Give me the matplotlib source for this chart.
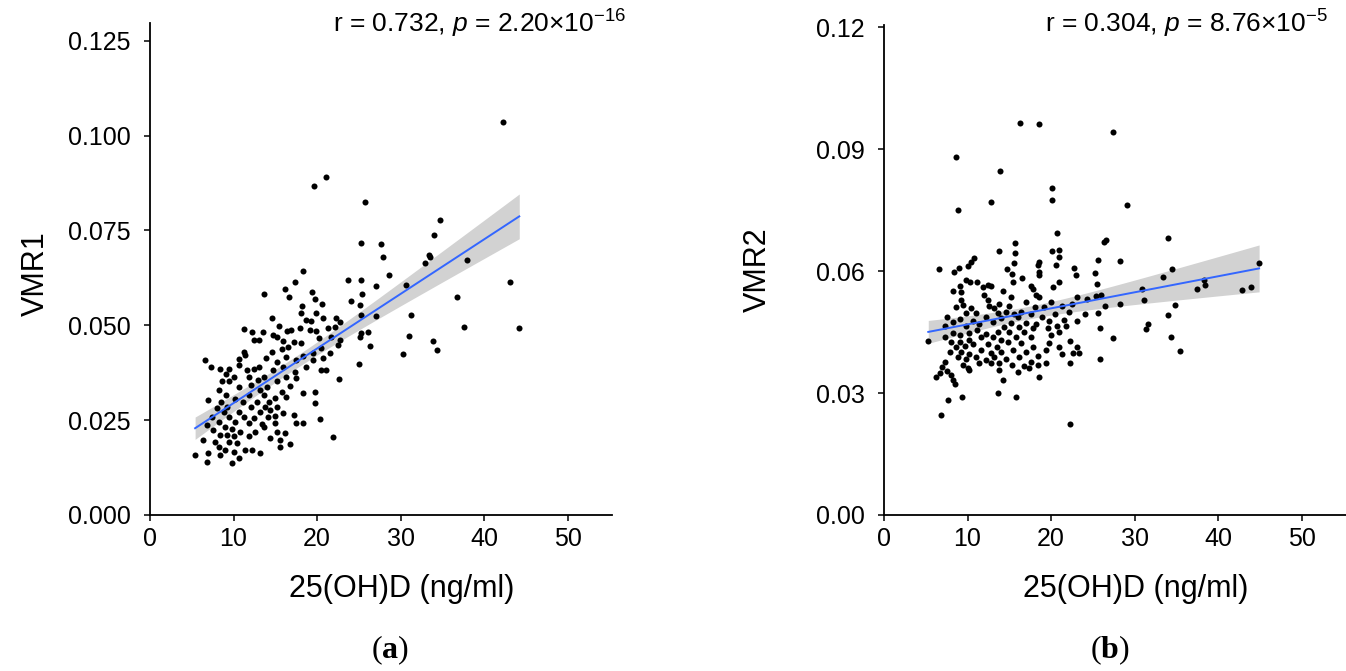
import numpy as np
import matplotlib
matplotlib.use("Agg")
import matplotlib.pyplot as plt

plt.rcParams['font.family'] = ['Liberation Sans', 'DejaVu Sans']
plt.rcParams['mathtext.fontset'] = 'custom'
plt.rcParams['mathtext.rm'] = 'Liberation Sans'
plt.rcParams['mathtext.it'] = 'Liberation Sans:italic'
plt.rcParams['mathtext.bf'] = 'Liberation Serif:bold'

# --- panel (a): 25(OH)D vs VMR1 ---
vmr1_pts = [
    (42.3, 0.1037), (21.1, 0.0890), (19.6, 0.0866), (25.7, 0.0825), (34.7, 0.0777), (34.0, 0.0739),
    (25.2, 0.0716), (27.7, 0.0714), (27.9, 0.0681), (33.4, 0.0685), (33.5, 0.0679), (32.9, 0.0663),
    (38.0, 0.0672), (28.6, 0.0633), (18.3, 0.0644), (23.7, 0.0619), (25.3, 0.0619), (17.4, 0.0615),
    (43.1, 0.0614), (30.7, 0.0606), (27.0, 0.0604), (16.1, 0.0596), (13.7, 0.0583), (25.4, 0.0582),
    (19.4, 0.0587), (19.8, 0.0570), (36.8, 0.0574), (16.6, 0.0574), (24.0, 0.0563), (20.6, 0.0557),
    (25.1, 0.0553), (18.2, 0.0550), (31.2, 0.0528), (27.0, 0.0524), (25.3, 0.0528), (37.6, 0.0496),
    (44.2, 0.0494), (31.0, 0.0472), (33.9, 0.0458), (26.1, 0.0483), (26.3, 0.0445), (34.3, 0.0434),
    (30.3, 0.0425), (25.0, 0.0397), (22.6, 0.0358), (21.9, 0.0205), (20.4, 0.0252), (25.2, 0.0479),
    (25.1, 0.0469),
    (14.6, 0.0519), (11.2, 0.0490), (12.2, 0.0482), (13.5, 0.0483), (14.75, 0.0475), (12.4, 0.0462),
    (13.1, 0.0462), (14.6, 0.0431), (11.2, 0.0431), (11.4, 0.0422), (6.6, 0.0409), (10.6, 0.0411),
    (13.9, 0.0413), (10.7, 0.0396), (13.0, 0.0391), (7.3, 0.0389), (8.4, 0.0384), (9.4, 0.0384),
    (11.6, 0.0382), (12.4, 0.0384), (13.6, 0.0365), (9.1, 0.0371), (10.0, 0.0365), (11.8, 0.0365),
    (12.9, 0.0356), (8.6, 0.0352), (9.4, 0.0352), (10.6, 0.0338), (12.1, 0.0343), (14.0, 0.0338),
    (13.2, 0.0330), (8.2, 0.0330), (9.05, 0.0316), (11.8, 0.0316), (13.6, 0.0316), (6.9, 0.0303),
    (8.5, 0.0299), (10.2, 0.0305), (11.1, 0.0299), (12.8, 0.0299), (14.2, 0.0299), (8.0, 0.0281),
    (9.2, 0.0286), (12.1, 0.0284), (13.8, 0.0286), (8.8, 0.0272), (10.6, 0.0272), (13.2, 0.0272),
    (7.4, 0.0259), (9.5, 0.0259), (11.2, 0.0259), (12.4, 0.0255), (14.1, 0.0259), (8.2, 0.0246),
    (10.2, 0.0246), (11.8, 0.0242), (13.4, 0.0240), (6.8, 0.0237), (9.0, 0.0233), (7.6, 0.0224),
    (9.8, 0.0226), (10.8, 0.0220), (12.6, 0.0220), (8.4, 0.0211), (9.2, 0.0211), (10.1, 0.0207),
    (11.8, 0.0207), (6.4, 0.0198), (7.8, 0.0193), (9.4, 0.0193), (10.4, 0.0189), (8.2, 0.0180),
    (9.0, 0.0171), (7.0, 0.0163), (10.0, 0.0167), (11.4, 0.0171), (13.2, 0.0163), (5.4, 0.0158),
    (8.4, 0.0158), (10.6, 0.0149), (6.8, 0.0141), (9.8, 0.0136), (12.2, 0.0171), (13.6, 0.0233),
    (18.1, 0.0532), (19.9, 0.0532), (18.7, 0.0514), (19.3, 0.0512), (20.7, 0.0519), (22.3, 0.0519),
    (22.7, 0.0510), (15.5, 0.0497), (16.9, 0.0488), (18.0, 0.0492), (19.1, 0.0488), (19.9, 0.0484),
    (21.3, 0.0492), (22.1, 0.0495), (16.4, 0.0484), (15.15, 0.0469), (20.25, 0.0466), (21.7, 0.0470),
    (17.2, 0.0457), (18.1, 0.0453), (22.8, 0.0462), (15.9, 0.0460), (16.5, 0.0442), (15.75, 0.0437),
    (22.5, 0.0449), (20.5, 0.0440), (19.5, 0.0426), (21.5, 0.0426), (16.3, 0.0416), (18.3, 0.0419),
    (17.5, 0.0409), (20.7, 0.0413), (15.15, 0.0404), (19.5, 0.0409), (15.9, 0.0391), (14.75, 0.0382),
    (17.3, 0.0378), (18.7, 0.0391), (20.5, 0.0382), (21.1, 0.0381), (16.3, 0.0365), (17.5, 0.0361),
    (15.15, 0.0352), (16.75, 0.0339), (15.75, 0.0325), (18.3, 0.0321), (19.7, 0.0323), (14.95, 0.0308),
    (16.3, 0.0312), (19.7, 0.0295), (15.15, 0.0286), (14.35, 0.0277), (15.95, 0.0268), (17.2, 0.0264),
    (14.95, 0.0260), (18.3, 0.0242), (17.5, 0.0243), (14.95, 0.0242), (15.15, 0.0220), (16.15, 0.0215),
    (14.35, 0.0202), (15.55, 0.0198), (16.75, 0.0187), (15.55, 0.0180),
]

# --- panel (b): 25(OH)D vs VMR2 ---
vmr2_pts = [
    (16.3, 0.0963), (18.6, 0.0961), (27.4, 0.0941), (8.6, 0.0880), (13.9, 0.0845), (20.1, 0.0805),
    (20.1, 0.0775), (12.8, 0.0769), (29.1, 0.0763), (8.9, 0.0749), (34.0, 0.0681), (20.7, 0.0694),
    (26.6, 0.0677), (26.3, 0.0672), (15.7, 0.0669), (34.5, 0.0606), (44.9, 0.0620), (28.3, 0.0625),
    (25.6, 0.0627), (30.9, 0.0557), (33.4, 0.0586), (38.4, 0.0565), (37.5, 0.0557), (38.3, 0.0578),
    (42.9, 0.0553), (43.9, 0.0561), (31.1, 0.0528), (34.8, 0.0517), (28.3, 0.0519), (34.0, 0.0493),
    (31.6, 0.0469), (31.4, 0.0458), (34.3, 0.0437), (35.4, 0.0404), (27.4, 0.0435), (25.8, 0.0461),
    (25.8, 0.0383), (22.3, 0.0223), (25.6, 0.0496), (25.4, 0.0539), (25.5, 0.0569), (25.3, 0.0595),
    (26.0, 0.0541), (26.4, 0.0515), (22.7, 0.0608), (23.0, 0.0589), (23.1, 0.0537), (23.1, 0.0477),
    (24.1, 0.0495), (24.3, 0.0531), (6.8, 0.0246), (7.7, 0.0282), (9.3, 0.0291), (13.7, 0.0301),
    (15.8, 0.0289), (22.3, 0.0373), (22.6, 0.0399), (23.3, 0.0399),
    (13.8, 0.0650), (10.8, 0.0631), (10.4, 0.0621), (10.0, 0.0612), (9.0, 0.0608), (8.4, 0.0598),
    (6.6, 0.0606), (9.85, 0.0578), (10.3, 0.0574), (11.1, 0.0574), (9.05, 0.0563), (8.25, 0.0552),
    (11.8, 0.0560), (12.4, 0.0566), (12.8, 0.0563), (9.25, 0.0549), (12.0, 0.0541), (9.25, 0.0529),
    (12.4, 0.0529), (9.45, 0.0516), (8.6, 0.0512), (10.4, 0.0510), (12.6, 0.0514), (13.2, 0.0510),
    (11.0, 0.0497), (13.6, 0.0497), (9.85, 0.0496), (7.55, 0.0486), (12.2, 0.0488), (14.0, 0.0484),
    (9.05, 0.0481), (10.6, 0.0478), (8.25, 0.0475), (13.0, 0.0475), (7.3, 0.0465), (9.8, 0.0465),
    (11.35, 0.0470), (5.3, 0.0429), (7.3, 0.0438), (8.25, 0.0448), (9.05, 0.0443), (10.2, 0.0448),
    (11.1, 0.0455), (12.2, 0.0446), (13.6, 0.0451), (8.05, 0.0426), (9.1, 0.0426), (10.2, 0.0430),
    (11.6, 0.0438), (13.0, 0.0438), (14.0, 0.0430), (8.6, 0.0414), (9.65, 0.0416), (10.6, 0.0420),
    (12.4, 0.0420), (13.5, 0.0414), (7.9, 0.0402), (9.25, 0.0402), (10.2, 0.0397), (11.6, 0.0406),
    (12.8, 0.0399), (14.0, 0.0402), (8.85, 0.0389), (9.85, 0.0383), (11.0, 0.0389), (12.2, 0.0381),
    (13.2, 0.0388), (7.3, 0.0377), (9.45, 0.0369), (11.4, 0.0373), (12.8, 0.0373), (10.0, 0.0361),
    (13.8, 0.0375), (6.9, 0.0365), (6.7, 0.0349), (6.2, 0.0340), (7.5, 0.0353), (8.05, 0.0344),
    (8.25, 0.0332), (8.45, 0.0322), (10.2, 0.0357),
    (20.1, 0.0648), (21.0, 0.0652), (20.9, 0.0635), (15.7, 0.0645), (15.6, 0.0619), (18.6, 0.0623),
    (18.4, 0.0615), (18.5, 0.0598), (18.6, 0.0590), (14.7, 0.0604), (15.3, 0.0593), (16.5, 0.0584),
    (20.55, 0.0615), (15.4, 0.0574), (21.0, 0.0574), (20.2, 0.0560), (17.6, 0.0563), (17.8, 0.0555),
    (14.2, 0.0552), (18.2, 0.0541), (18.5, 0.0535), (15.2, 0.0535), (17.0, 0.0524), (20.0, 0.0524),
    (13.8, 0.0519), (15.0, 0.0514), (18.1, 0.0512), (19.2, 0.0512), (21.35, 0.0514), (22.5, 0.0519),
    (14.6, 0.0498), (15.6, 0.0495), (16.4, 0.0498), (17.6, 0.0495), (20.5, 0.0495), (22.1, 0.0500),
    (16.0, 0.0486), (18.9, 0.0488), (19.8, 0.0478), (15.2, 0.0473), (17.0, 0.0471), (18.2, 0.0470),
    (21.55, 0.0479), (14.4, 0.0463), (16.2, 0.0463), (19.6, 0.0459), (20.75, 0.0465), (21.75, 0.0465),
    (15.0, 0.0451), (16.8, 0.0451), (17.8, 0.0459), (15.8, 0.0438), (17.6, 0.0438), (20.0, 0.0443),
    (21.0, 0.0451), (22.3, 0.0429), (23.1, 0.0414), (14.8, 0.0426), (16.4, 0.0422), (19.8, 0.0422),
    (17.8, 0.0414), (19.4, 0.0406), (21.0, 0.0414), (15.4, 0.0406), (17.0, 0.0402), (21.3, 0.0396),
    (18.4, 0.0391), (16.2, 0.0389), (14.6, 0.0383), (17.6, 0.0377), (19.4, 0.0373), (15.3, 0.0369),
    (16.8, 0.0366), (18.4, 0.0369), (13.8, 0.0356), (16.0, 0.0352), (17.3, 0.0361), (18.5, 0.0340),
    (14.3, 0.0332),
]

x_ticks = [0, 10, 20, 30, 40, 50]
vmr1_ticks = [0.000, 0.025, 0.050, 0.075, 0.100, 0.125]
vmr2_ticks = [0.00, 0.03, 0.06, 0.09, 0.12]
stats_a = r'r = 0.732, $p$ = 2.20×10$^{-16}$'
stats_b = r'r = 0.304, $p$ = 8.76×10$^{-5}$'


def draw_panel(ax, pts, yticks, yfmt, ylim, ylabel):
    d = np.array(pts)
    x, y = d[:, 0], d[:, 1]

    # linear fit + 95% band (like geom_smooth(method='lm'))
    b, a = np.polyfit(x, y, 1)
    xs = np.linspace(x.min(), x.max(), 100)
    n = len(x)
    resid = y - (a + b * x)
    s = np.sqrt(np.sum(resid ** 2) / (n - 2))
    se = s * np.sqrt(1 / n + (xs - x.mean()) ** 2 / np.sum((x - x.mean()) ** 2))
    fit = a + b * xs
    ax.fill_between(xs, fit - 1.97 * se, fit + 1.97 * se, color='#d2d2d2', lw=0, zorder=2)
    ax.scatter(x, y, s=19, color='black', lw=0, zorder=3)
    ax.plot(xs, fit, color='#3366FF', lw=1.4, zorder=4)

    ax.set_xlim(0, 55.3)
    ax.set_ylim(*ylim)
    ax.set_xticks(x_ticks)
    ax.set_yticks(yticks)
    ax.set_yticklabels([yfmt.format(t) for t in yticks])
    for sp in ['top', 'right']:
        ax.spines[sp].set_visible(False)
    for sp in ['left', 'bottom']:
        ax.spines[sp].set_linewidth(1.3)
    ax.tick_params(axis='both', length=4, width=1.1, labelsize=18)
    ax.tick_params(axis='y', pad=10)
    ax.tick_params(axis='x', pad=5)
    ax.set_ylabel(ylabel, fontsize=22)
    ax.set_xlabel('25(OH)D (ng/ml)', fontsize=22)
    ax.xaxis.set_label_coords(0.545, -0.12)


fig = plt.figure(figsize=(13.46, 6.71), dpi=100)
W, H = 1346, 671
ax1 = fig.add_axes([150 / W, (H - 515) / H, 462 / W, 492 / H])
ax2 = fig.add_axes([884 / W, (H - 515) / H, 462 / W, 490 / H])

draw_panel(ax1, vmr1_pts, vmr1_ticks, '{:.3f}', (0, 0.1297), 'VMR1')
draw_panel(ax2, vmr2_pts, vmr2_ticks, '{:.2f}', (0, 0.1205), 'VMR2')
ax1.yaxis.set_label_coords(-0.215, 0.49)
ax2.yaxis.set_label_coords(-0.24, 0.5)

fig.text(626 / W, (H - 33) / H, stats_a, ha='right', va='baseline', fontsize=19)
fig.text(1328 / W, (H - 33) / H, stats_b, ha='right', va='baseline', fontsize=19)

fig.text(390 / W, (H - 650) / H, r'($\mathbf{a}$)', ha='center', va='center',
         fontsize=23, family='Liberation Serif')
fig.text(1110 / W, (H - 650) / H, r'($\mathbf{b}$)', ha='center', va='center',
         fontsize=23, family='Liberation Serif')

fig.savefig('out.png', dpi=100)
